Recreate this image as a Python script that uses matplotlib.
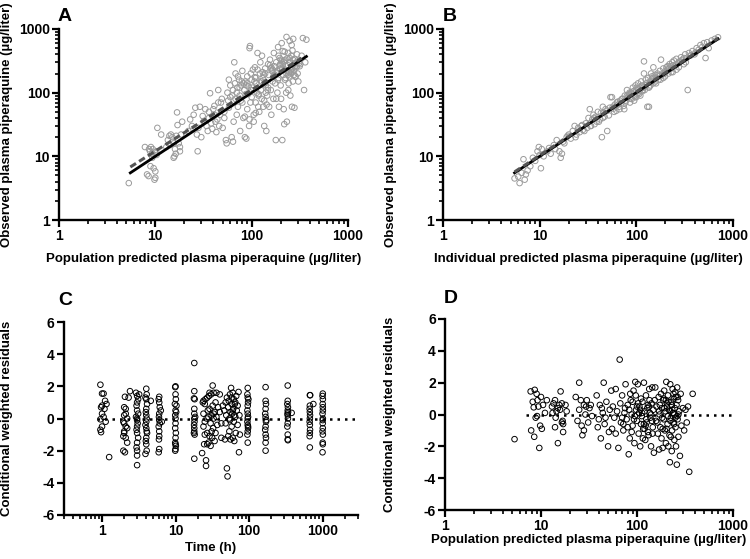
import matplotlib
matplotlib.use("Agg")
import matplotlib.pyplot as plt
from matplotlib.ticker import NullFormatter, FixedLocator

plt.rcParams['font.family'] = ['Liberation Sans', 'DejaVu Sans']
plt.rcParams['font.weight'] = 'bold'

# ---------------- Panel A: PRED vs observed ----------------
a_pred = [5.3, 7.8, 8.2, 8.5, 8.6, 8.8, 9.0, 9.2, 9.4, 9.6, 9.8, 10.0, 10.0, 10.2, 10.5, 11.5, 8.9, 9.3, 9.9, 10.3,
          13, 13.5, 14, 14.5, 15, 15.2, 15.5, 15.8, 16, 16.3, 16.8, 17, 17.5, 18, 18, 18.5, 19, 16.5, 14.2, 15.6,
          22, 23, 24, 25, 26, 27, 27.5, 28, 29, 30, 31, 32, 33, 34, 35, 36, 37, 38, 39, 40, 41, 42, 43, 44, 45,
          46, 47, 48, 50, 52, 54, 55, 56, 57, 58, 60, 58, 62, 64, 65,
          66, 67, 68, 70, 70, 72, 74, 75, 76, 78, 80, 80, 82, 84, 85, 86, 88, 90, 90, 92, 94, 95, 96, 98, 100,
          100, 102, 105, 108, 110, 112, 115, 118, 120, 122, 125, 128, 130, 132, 135, 138, 140, 142, 145, 148, 150,
          64, 68, 72, 77, 83, 87, 93, 97, 103, 107, 113, 117, 123, 127, 133, 137, 143, 147, 85, 95, 105, 110,
          152, 155, 158, 160, 162, 165, 168, 170, 172, 175, 178, 180, 182, 185, 188, 190, 192, 195, 198, 200,
          202, 205, 208, 210, 212, 215, 218, 220, 222, 225, 228, 230, 232, 235, 238, 240, 242, 245, 248, 250,
          252, 255, 258, 260, 262, 265, 268, 270, 272, 275, 278, 280, 285, 290, 295, 300, 305, 310, 320, 330,
          340, 350, 360, 370, 180, 200, 220, 240, 260, 280, 300, 190, 210, 230,
          60, 75, 90, 110, 130, 160, 175, 195, 215, 235, 255, 275, 295, 125, 140, 165,
          88, 98, 108, 118, 128, 138, 148, 158, 168, 178, 188, 198, 208, 218, 228, 238, 248, 258, 268, 278,
          115, 135, 155, 185, 205, 225, 245, 265, 285, 315, 45, 52, 63, 71, 79, 36, 41, 49]
a_obs = [3.8, 14, 5.2, 4.9, 13, 12, 14, 11, 13, 6.5, 4.3, 4.6, 5.8, 12, 28, 22, 7, 9.5, 11.5, 10.5,
         14, 18, 21, 22, 20, 17, 9.5, 10, 13, 11, 49, 31, 16, 14, 12, 22, 35, 21, 15, 16,
         25, 38, 30, 45, 58, 22, 12, 28, 60, 20, 43, 36, 55, 30, 25, 40, 98, 33, 27, 55, 62, 35, 24, 38, 110,
         30, 45, 70, 28, 50, 18, 16, 100, 75, 58, 130, 160, 20, 17, 35,
         300, 140, 80, 45, 100, 60, 160, 90, 25, 130, 70, 220, 40, 110, 20, 150, 19, 55, 180, 95, 30, 500, 540, 200, 85,
         160, 120, 45, 250, 70, 140, 420, 90, 50, 200, 110, 380, 170, 60, 30, 240, 130, 25, 90, 280, 190,
         110, 200, 180, 75, 140, 95, 125, 70, 230, 150, 100, 60, 300, 80, 190, 140, 65, 110, 42, 38, 35, 48,
         60, 330, 110, 45, 220, 150, 80, 420, 260, 140, 18, 300, 200, 100, 520, 170, 60, 350, 240, 130,
         80, 600, 18, 280, 190, 55, 32, 440, 160, 330, 100, 750, 35, 220, 270, 420, 140, 180, 650, 300,
         90, 200, 380, 240, 60, 460, 150, 700, 280, 220, 58, 340, 180, 250, 400, 200, 150, 290, 280, 380,
         720, 110, 300, 680, 80, 330, 230, 110, 560, 260, 320, 380, 450, 200,
         85, 120, 140, 170, 210, 250, 190, 270, 300, 350, 230, 190, 260, 150, 100, 230,
         130, 110, 175, 95, 150, 200, 120, 240, 180, 210, 160, 280, 240, 320, 260, 190, 350, 210, 330, 290,
         230, 75, 270, 220, 310, 170, 210, 240, 180, 260, 70, 40, 90, 120, 150, 50, 45, 80]
a_identity = [5.5, 370]
a_fit_x = [5.5, 330]
a_fit_y = [6.8, 350]

# ---------------- Panel B: IPRED vs observed ----------------
b_ipred = [5.5, 6, 6.2, 6.5, 6.8, 7, 7.2, 7.5, 8, 8.5, 9, 9.5, 9.8, 10, 10.3, 10.5, 11, 12, 12.5, 13, 14, 15, 16,
           16.5, 17, 17.5, 18, 19, 20, 21, 22, 23, 24, 25, 26, 27, 28, 30, 31, 32, 33, 34, 35, 36, 37, 38, 39, 40,
           42, 44, 45, 46, 48, 50, 52, 54, 56, 57, 58, 60, 62, 64, 66, 68, 70, 72, 74, 76, 78, 80, 82, 84, 86, 88,
           90, 92, 94, 96, 98, 100, 102, 104, 106, 108, 110, 112, 115, 118, 120, 122, 125, 128, 130, 132, 135, 138,
           140, 142, 145, 148, 150, 155, 160, 165, 170, 175, 180, 185, 190, 195, 200, 205, 210, 215, 220, 225, 230,
           235, 240, 245, 250, 260, 270, 280, 290, 300, 310, 320, 330, 340, 350, 360, 380, 400, 420, 440, 460, 480,
           500, 520, 540, 560, 600, 650, 700, 50, 45, 65, 85, 95, 115, 135, 160, 190, 210, 260, 310, 150, 120, 100, 75,
           80, 90, 105, 125, 145, 170, 200, 230, 280,
           14.5, 19.5, 23.5, 27.5, 29, 33.5, 36.5, 41, 43, 47, 53, 59, 63, 67, 71, 77, 83, 87, 93, 97,
           101, 107, 113, 117, 127, 137, 147, 158, 168, 178, 188, 198, 218, 238, 258, 275, 295, 325, 370, 410]
b_obs = [4.5, 4.8, 3.8, 5.5, 9, 4.3, 5.2, 6, 7, 9.5, 8.5, 12, 14, 10.5, 6.5, 13, 10, 12, 13.5, 11, 15, 18, 12,
         9.5, 11, 17, 16, 20, 22, 19, 25, 30, 22, 28, 24, 30, 26, 33, 28, 40, 55, 30, 38, 45, 32, 42, 35, 50,
         38, 20, 60, 48, 55, 52, 44, 85, 85, 60, 56, 65, 52, 72, 60, 75, 68, 80, 62, 90, 75, 110, 85, 95, 70, 100,
         80, 120, 105, 90, 130, 110, 95, 140, 100, 120, 90, 150, 130, 120, 310, 110, 160, 140, 60, 170, 60, 150,
         130, 200, 180, 160, 140, 190, 170, 200, 180, 220, 330, 190, 240, 200, 210, 250, 230, 200, 280, 260, 240,
         300, 270, 320, 260, 340, 290, 300, 360, 330, 280, 400, 350, 110, 420, 380, 450, 400, 500, 470, 560, 520,
         600, 350, 620, 500, 660, 700, 740, 25, 40, 65, 100, 75, 105, 120, 140, 170, 260, 230, 350, 250, 200, 85, 55,
         90, 95, 115, 130, 150, 160, 220, 210, 310,
         13, 21, 20, 31, 25, 30, 40, 35, 48, 42, 58, 50, 70, 55, 80, 70, 90, 80, 105, 85,
         120, 95, 125, 110, 140, 125, 170, 150, 190, 160, 200, 180, 240, 210, 280, 250, 320, 300, 390, 430]
b_identity = [5.5, 700]
b_fit_x = [5.5, 700]
b_fit_y = [5.7, 720]

# ---------------- Panel C: time vs CWRES ----------------
c_time = ([0.95, 1.0, 1.05, 1.1, 1.15, 1.0, 0.97, 1.08, 1.0, 1.05, 0.95, 1.12, 1.0, 0.95, 0.97, 1.25] +
          [2.3, 2.05, 2.4, 2.0, 2.1, 2.0, 2.2, 1.95, 2.0, 2.1, 2.2, 2.0, 1.95, 2.1, 2.2, 1.95, 2.05, 2.1, 2.0] +
          [2.9, 3.0, 3.1, 3.0, 2.95, 3.0, 3.1, 2.9, 3.0, 3.05, 3.0, 2.95, 3.0, 3.1, 3.0, 2.95, 3.0, 3.0, 3.0, 3.0, 3.2] +
          [4.0, 4.05, 3.9, 4.0, 4.1, 4.0, 3.95, 4.0, 4.05, 4.0, 3.9, 4.0, 4.05, 4.1, 4.0, 3.95, 4.0, 4.05, 3.9, 4.6] +
          [6.0, 5.9, 6.0, 6.1, 6.0, 5.95, 6.0, 6.1, 5.9, 6.0, 6.0, 5.95, 6.0, 5.9, 6.3, 6.5] +
          [10, 9.9, 10, 10.1, 9.8, 10, 10.2, 9.9, 10, 10, 9.9, 10.1, 10, 9.9, 10, 10.1, 10, 9.9, 10.3] +
          [18, 18, 17.8, 18.2, 18, 18, 18, 18.1, 17.9, 18, 18, 18.2, 18, 18.5, 17.8] +
          [23, 23.5, 24, 24, 24.5, 25, 25, 25.5, 26, 26, 26.5, 27, 27, 27.5, 28, 28, 28.5, 29, 29, 30, 30, 30.5,
           31, 31.5, 32, 32, 32.5, 33, 33, 34, 34, 35, 35, 36, 36, 37, 38, 40, 40, 42, 42, 44, 24, 25, 27, 29, 31, 33] +
          [46, 47, 48, 48, 49, 50, 50, 51, 52, 52, 53, 54, 54, 55, 56, 56, 57, 58, 58, 59, 60, 60, 61, 62, 62, 63,
           64, 65, 66, 67, 68, 70, 70, 72, 73, 74, 75, 55, 60, 65, 58, 63] +
          [96, 95, 96, 97, 96, 95, 96, 97, 96, 95, 96, 97, 96, 95, 96, 98, 97] +
          [168, 168, 170, 168, 166, 168, 170, 168, 166, 168, 170, 168, 168, 172] +
          [336, 336, 332, 338, 336, 334, 336, 338, 336, 332, 336, 336, 338, 340, 380] +
          [672, 680, 672, 668, 672, 676, 672, 668, 672, 676, 672, 668, 672, 750] +
          [1008, 1000, 1010, 1005, 1008, 1000, 1010, 1005, 1008, 1000, 1010, 1005, 1008, 1000, 1010, 1005])
c_cwres = ([2.1, 1.55, 1.55, 1.1, 0.9, 0.8, 0.7, 0.6, 0.3, 0.1, -0.05, -0.2, -0.5, -0.7, -0.85, -2.4] +
           [1.3, 1.35, 1.7, 0.7, 0.6, 0.2, 0.0, -0.2, -0.3, -0.5, -0.6, -0.9, -1.1, -1.2, -1.5, -2.0, -2.1, 0.3, -0.8] +
           [1.6, 1.4, 1.2, 1.0, 0.8, 0.5, 0.3, 0.1, -0.1, -0.3, -0.5, -0.7, -0.9, -1.2, -1.5, -1.8, -2.0, -2.3, -2.9, 0.0, 1.5] +
           [1.85, 1.5, 1.3, 1.2, 0.9, 0.6, 0.4, 0.2, 0.0, -0.2, -0.4, -0.6, -0.8, -0.9, -1.2, -1.4, -1.6, -2.0, -2.2, 1.1] +
           [1.35, 1.2, 1.0, 0.7, 0.3, 0.1, -0.1, -0.3, -0.5, -0.8, -1.1, -1.3, -1.9, -2.1, 0.5, -0.2] +
           [2.0, 1.95, 1.5, 1.2, 0.9, 0.5, 0.4, 0.2, 0.0, -0.3, -0.6, -0.9, -1.2, -1.5, -1.6, -1.7, -1.9, -2.0, 0.8] +
           [3.45, 1.7, 1.25, 1.2, 0.6, 0.3, 0.0, -0.2, -0.4, -0.6, -0.8, -1.0, -2.5, 0.1, -0.9] +
           [-2.15, 1.0, 0.3, -0.5, -1.6, 0.9, -0.2, 1.2, -2.6, -2.95, 0.0, 1.3, -0.9, 0.5, -1.5, 0.1, 1.4, -1.1, 0.6,
            -1.7, -0.3, 1.5, 0.2, -1.2, 2.05, 0.8, -0.6, 1.6, 0.0, -1.4, 0.4, 1.0, -0.9, 1.6, 0.1, -0.4, 0.7, 1.5, 0.4,
            -0.3, -1.2, 0.8, 1.1, -1.0, -1.6, 1.6, -0.8, 0.3] +
           [0.5, -1.3, 1.0, -0.3, 0.2, -3.1, 1.3, -3.6, 0.7, -1.1, 1.1, 0.0, -0.8, 1.5, 0.4, -1.3, 1.9, 0.9, -0.5, 0.3,
            1.6, -1.2, 0.6, -0.2, 1.2, -1.4, 0.9, 0.1, -0.9, 1.4, 0.5, -0.4, 0.8, 1.65, -2.1, 0.2, -1.0, -0.1, 0.5, 1.0,
            1.3, 0.2] +
           [1.9, 1.5, 1.3, 1.0, 0.8, 0.5, 0.3, 0.1, 0.0, -0.2, -0.4, -0.6, -0.8, -1.0, -1.5, 1.2, -0.5] +
           [1.95, 1.1, 0.9, 0.6, 0.3, 0.1, -0.2, -0.5, -0.7, -1.0, -1.2, -1.5, -2.0, -0.1] +
           [2.05, 1.1, 0.9, 0.7, 0.5, 0.3, 0.2, 0.0, -0.3, -0.5, -1.0, -1.3, -1.35, 0.4, 0.35] +
           [1.45, 1.45, 0.8, 0.6, 0.4, 0.2, 0.0, -0.2, -0.4, -0.7, -0.9, -1.1, -1.8, 0.9] +
           [1.55, 1.4, 1.2, 0.9, 0.7, 0.3, 0.0, -0.3, -0.6, -0.8, -1.0, -1.5, -1.6, -2.1, 0.5, -0.1])

# ---------------- Panel D: PRED vs CWRES ----------------
d_pred = [5.3, 7.8, 7.9, 8.2, 8.4, 8.6, 8.8, 9.0, 9.2, 9.4, 9.6, 9.8, 10, 10.2, 10.5, 8.5, 9.1, 11, 11.5,
          13, 13.5, 14, 14, 14.5, 15, 15, 15.5, 16, 16.5, 16.5, 17, 17, 18, 18.5, 14.2, 13.2, 15.8, 16.8,
          23, 24, 25, 25, 26, 27, 28, 28, 29, 30, 31, 32, 33, 34, 26.5, 29.5,
          38, 40, 41, 42, 44, 45, 46, 48, 50, 51, 52, 54, 55, 56, 58, 60, 60, 62, 64, 39, 43, 47,
          66, 67, 68, 70, 72, 74, 76, 78, 80, 82, 84, 86, 88, 90, 92, 94, 96, 98, 100, 102, 104, 106, 108, 110,
          112, 114, 116, 118, 120, 122, 124, 126, 128, 130, 132, 134, 136, 138, 140, 142, 144, 146, 148, 150,
          70, 80, 90, 100, 110, 120, 130, 140, 85, 95, 105, 115, 125,
          155, 158, 160, 165, 168, 170, 172, 175, 178, 180, 182, 185, 188, 190, 192, 195, 198, 200, 202, 205,
          208, 210, 212, 215, 218, 220, 222, 225, 228, 230, 232, 235, 238, 240, 242, 245, 248, 250, 252, 255,
          258, 260, 262, 265, 268, 270, 275, 280, 285, 290, 300, 310, 320, 330, 340, 350, 380,
          200, 210, 230, 250, 270, 190, 220, 240,
          75, 88, 97, 108, 118, 135, 145, 170, 185, 205, 225, 245, 265,
          72, 83, 93, 103, 113, 123, 133, 143, 153, 163, 173, 183, 193, 203, 213, 223, 233, 243, 253, 263]
d_cwres = [-1.55, 1.45, -1.0, 0.8, 0.45, 1.55, -0.2, 1.3, 0.9, 0.5, -2.1, -0.7, 1.1, -0.9, 0.6, -1.4, -0.1, 0.1, 0.9,
           0.5, 0.7, -0.8, 0.9, 0.2, -1.8, 0.4, 0.6, 1.45, -0.5, 0.7, -1.1, -0.6, 0.6, 0.2, -0.2, 0.1, 0.3, -0.4,
           1.1, -0.4, 2.0, 0.3, 0.9, -1.3, 0.6, -1.0, 0.0, 0.9, -0.5, 0.4, 0.6, -0.1, -0.7, 0.5,
           1.2, -0.3, 0.6, -1.5, 0.1, 2.0, -0.6, 0.8, -2.0, -1.1, 0.3, 1.5, -0.9, 0.5, -0.2, 1.6, -1.2, 0.2, -2.1, -0.8, 0.4, -0.2,
           3.45, 0.7, -0.5, 1.2, -1.0, 0.1, 1.9, -0.3, 0.6, -2.5, -1.5, 0.9, 0.0, -0.7, 1.5, -1.8, 2.05, 0.3, -0.4, 1.9,
           -1.2, 0.5, -2.0, 1.0, -0.1, 0.8, -0.9, 2.0, 0.2, -1.6, 1.2, -0.5, 0.4, -1.1, -1.3, 1.6, 0.1, -0.2, -2.0, 0.7,
           1.7, -0.8, 0.3, -2.4,
           -0.2, -0.8, 0.8, 0.5, -0.6, -0.9, 0.6, 0.0, 1.3, -0.1, 0.1, -1.5, -0.3,
           1.7, -0.4, 0.5, -1.2, 1.1, -2.2, 0.0, -0.8, 1.3, -1.5, 0.4, -2.1, 0.9, -0.3, 1.5, -1.0, 0.2, -1.8, 2.05, 0.7,
           -0.6, 1.2, -2.0, 0.3, -1.3, -3.0, 1.9, -0.2, 0.8, -2.3, -1.0, 1.6, 0.1, -0.5, 1.0, -1.6, 0.4, 1.4, -0.8, -2.0,
           0.6, -3.15, 1.7, -0.3, 0.9, -1.4, 0.2, -2.6, 1.3, -0.7, 0.4, -1.0, 0.3, -0.5, 0.5, -3.6, 1.3,
           0.9, -0.1, 0.6, -0.2, 0.0, 1.0, 0.2, 1.3,
           0.4, -1.1, 1.2, 0.3, -0.6, 0.9, -1.2, 0.2, -0.9, 0.5, -1.4, 0.0, 1.1,
           -0.6, 0.3, -0.3, 0.7, 0.1, -0.7, 0.5, -0.4, 0.9, -0.5, 0.6, -0.2, 0.4, -0.9, 0.8, -0.4, 0.3, -0.6, 1.1, -0.1]

grey = '#9a9a9a'
W, H = 750, 559
fig = plt.figure(figsize=(7.5, 5.59), dpi=100)

def ax_at(l, t, r, b):
    return fig.add_axes([l / W, 1 - b / H, (r - l) / W, (b - t) / H])

def style(ax):
    for s in ['top', 'right']:
        ax.spines[s].set_visible(False)
    for s in ['left', 'bottom']:
        ax.spines[s].set_linewidth(1.7)
    ax.tick_params(which='major', direction='out', length=5, width=1.6, labelsize=10, pad=1.5)
    ax.tick_params(which='minor', direction='out', length=3, width=1.2)
    for lab in ax.get_xticklabels() + ax.get_yticklabels():
        lab.set_fontweight('bold')

def logaxis(axis, lo_exp, hi_exp):
    majors = [10.0 ** e for e in range(lo_exp, hi_exp + 1)]
    minors = [m * 10.0 ** e for e in range(lo_exp - 1, hi_exp + 1) for m in range(2, 10)]
    axis.set_major_locator(FixedLocator(majors))
    axis.set_minor_locator(FixedLocator(minors))
    axis.set_minor_formatter(NullFormatter())

tick_labels = ['1', '10', '100', '1000']
lab_kw = dict(fontsize=9.5, fontweight='bold')
ms = 16

# A
axA = ax_at(59, 29, 348, 220)
axA.set_xscale('log'); axA.set_yscale('log')
axA.scatter(a_pred, a_obs, s=ms, facecolors='none', edgecolors=grey, linewidths=0.7, zorder=2)
axA.plot(a_identity, a_identity, color='black', lw=2, zorder=3)
axA.plot(a_fit_x, a_fit_y, color='#555555', lw=2.2, dashes=(2.2, 1.2), zorder=4)
axA.set_xlim(1, 1000); axA.set_ylim(1, 1000)
logaxis(axA.xaxis, 0, 3); logaxis(axA.yaxis, 0, 3)
axA.set_xticklabels(tick_labels); axA.set_yticklabels(tick_labels)
axA.set_xlabel('Population predicted plasma piperaquine (µg/liter)', labelpad=7, **lab_kw)
axA.set_ylabel('Observed plasma piperaquine (µg/liter)', labelpad=4, **lab_kw)
style(axA)

# B
axB = ax_at(443, 29, 733, 220)
axB.set_xscale('log'); axB.set_yscale('log')
axB.scatter(b_ipred, b_obs, s=ms, facecolors='none', edgecolors=grey, linewidths=0.7, zorder=2)
axB.plot(b_identity, b_identity, color='black', lw=2, zorder=3)
axB.plot(b_fit_x, b_fit_y, color='#555555', lw=2.2, dashes=(2.2, 1.2), zorder=4)
axB.set_xlim(1, 1000); axB.set_ylim(1, 1000)
logaxis(axB.xaxis, 0, 3); logaxis(axB.yaxis, 0, 3)
axB.set_xticklabels(tick_labels); axB.set_yticklabels(tick_labels)
axB.set_xlabel('Individual predicted plasma piperaquine (µg/liter)', labelpad=7, **lab_kw)
axB.set_ylabel('Observed plasma piperaquine (µg/liter)', labelpad=4, **lab_kw)
style(axB)

# C
axC = ax_at(63.6, 322, 357.6, 515)
axC.set_xscale('log')
axC.scatter(c_time, c_cwres, s=ms, facecolors='none', edgecolors='black', linewidths=0.7, zorder=2)
axC.plot([0.86, 3000], [0, 0], color='black', lw=1.8, ls=(0, (1, 2.0)), zorder=1)
axC.set_xlim(0.3, 3000); axC.set_ylim(-6, 6)
logaxis(axC.xaxis, 0, 3)
axC.set_xticklabels(tick_labels)
axC.set_yticks([-6, -4, -2, 0, 2, 4, 6])
axC.set_yticklabels(['-6', '-4', '-2', '0', '2', '4', '6'])
axC.set_xlabel('Time (h)', labelpad=3, **lab_kw)
axC.set_ylabel('Conditional weighted residuals', labelpad=21, **lab_kw)
style(axC)

# D
axD = ax_at(445, 319, 733, 510)
axD.set_xscale('log')
axD.scatter(d_pred, d_cwres, s=ms, facecolors='none', edgecolors='black', linewidths=0.7, zorder=2)
axD.plot([7, 1000], [0, 0], color='black', lw=1.8, ls=(0, (1, 2.0)), zorder=1)
axD.set_xlim(1, 1000); axD.set_ylim(-6, 6)
logaxis(axD.xaxis, 0, 3)
axD.set_xticklabels(tick_labels)
axD.set_yticks([-6, -4, -2, 0, 2, 4, 6])
axD.set_yticklabels(['-6', '-4', '-2', '0', '2', '4', '6'])
axD.set_xlabel('Population predicted plasma piperaquine (µg/liter)', labelpad=1, **lab_kw)
axD.set_ylabel('Conditional weighted residuals', labelpad=20, **lab_kw)
style(axD)

for txt, x, y in [('A', 58, 21), ('B', 443, 21), ('C', 58, 305), ('D', 444, 303)]:
    fig.text(x / W, 1 - y / H, txt, fontsize=14, fontweight='bold', ha='left', va='baseline')

fig.savefig('out.png', dpi=100)
